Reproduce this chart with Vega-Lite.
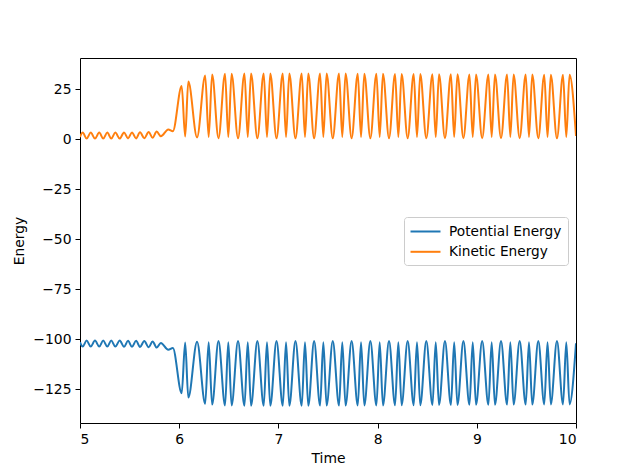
{
  "$schema": "https://vega.github.io/schema/vega-lite/v6.json",
  "autosize": "none",
  "width": 496,
  "height": 365,
  "padding": {"left": 80, "top": 58, "right": 64, "bottom": 53},
  "background": "white",
  "data": {
    "values": [
      {"t": 5.000, "Potential Energy": -101.6, "Kinetic Energy": 1.0},
      {"t": 5.027, "Potential Energy": -103.8, "Kinetic Energy": 3.2},
      {"t": 5.067, "Potential Energy": -100.8, "Kinetic Energy": 0.2},
      {"t": 5.108, "Potential Energy": -103.8, "Kinetic Energy": 3.2},
      {"t": 5.151, "Potential Energy": -100.8, "Kinetic Energy": 0.2},
      {"t": 5.194, "Potential Energy": -103.8, "Kinetic Energy": 3.2},
      {"t": 5.234, "Potential Energy": -100.8, "Kinetic Energy": 0.2},
      {"t": 5.275, "Potential Energy": -103.8, "Kinetic Energy": 3.2},
      {"t": 5.315, "Potential Energy": -100.8, "Kinetic Energy": 0.2},
      {"t": 5.356, "Potential Energy": -103.8, "Kinetic Energy": 3.2},
      {"t": 5.400, "Potential Energy": -100.8, "Kinetic Energy": 0.2},
      {"t": 5.444, "Potential Energy": -103.9, "Kinetic Energy": 3.3},
      {"t": 5.484, "Potential Energy": -100.9, "Kinetic Energy": 0.3},
      {"t": 5.524, "Potential Energy": -103.9, "Kinetic Energy": 3.3},
      {"t": 5.565, "Potential Energy": -100.9, "Kinetic Energy": 0.3},
      {"t": 5.605, "Potential Energy": -104.0, "Kinetic Energy": 3.4},
      {"t": 5.648, "Potential Energy": -101.0, "Kinetic Energy": 0.4},
      {"t": 5.692, "Potential Energy": -104.1, "Kinetic Energy": 3.5},
      {"t": 5.732, "Potential Energy": -101.2, "Kinetic Energy": 0.6},
      {"t": 5.773, "Potential Energy": -104.3, "Kinetic Energy": 3.7},
      {"t": 5.815, "Potential Energy": -102.0, "Kinetic Energy": 1.4},
      {"t": 5.890, "Potential Energy": -105.4, "Kinetic Energy": 4.8},
      {"t": 5.936, "Potential Energy": -104.5, "Kinetic Energy": 3.9},
      {"t": 6.025, "Potential Energy": -127.1, "Kinetic Energy": 26.5},
      {"t": 6.060, "Potential Energy": -101.8, "Kinetic Energy": 1.2},
      {"t": 6.092, "Potential Energy": -129.3, "Kinetic Energy": 28.7},
      {"t": 6.180, "Potential Energy": -101.4, "Kinetic Energy": 0.8},
      {"t": 6.262, "Potential Energy": -132.4, "Kinetic Energy": 31.8},
      {"t": 6.297, "Potential Energy": -101.6, "Kinetic Energy": 1.0},
      {"t": 6.332, "Potential Energy": -132.8, "Kinetic Energy": 32.2},
      {"t": 6.396, "Potential Energy": -101.0, "Kinetic Energy": 0.4},
      {"t": 6.462, "Potential Energy": -133.2, "Kinetic Energy": 32.6},
      {"t": 6.495, "Potential Energy": -101.6, "Kinetic Energy": 1.0},
      {"t": 6.528, "Potential Energy": -133.2, "Kinetic Energy": 32.6},
      {"t": 6.593, "Potential Energy": -101.0, "Kinetic Energy": 0.4},
      {"t": 6.658, "Potential Energy": -133.4, "Kinetic Energy": 32.8},
      {"t": 6.691, "Potential Energy": -101.6, "Kinetic Energy": 1.0},
      {"t": 6.724, "Potential Energy": -133.4, "Kinetic Energy": 32.8},
      {"t": 6.788, "Potential Energy": -101.0, "Kinetic Energy": 0.4},
      {"t": 6.852, "Potential Energy": -133.4, "Kinetic Energy": 32.8},
      {"t": 6.885, "Potential Energy": -101.6, "Kinetic Energy": 1.0},
      {"t": 6.918, "Potential Energy": -133.4, "Kinetic Energy": 32.8},
      {"t": 6.981, "Potential Energy": -101.0, "Kinetic Energy": 0.4},
      {"t": 7.044, "Potential Energy": -133.4, "Kinetic Energy": 32.8},
      {"t": 7.077, "Potential Energy": -101.6, "Kinetic Energy": 1.0},
      {"t": 7.110, "Potential Energy": -133.4, "Kinetic Energy": 32.8},
      {"t": 7.172, "Potential Energy": -101.0, "Kinetic Energy": 0.4},
      {"t": 7.235, "Potential Energy": -133.4, "Kinetic Energy": 32.8},
      {"t": 7.268, "Potential Energy": -101.6, "Kinetic Energy": 1.0},
      {"t": 7.301, "Potential Energy": -133.4, "Kinetic Energy": 32.8},
      {"t": 7.360, "Potential Energy": -101.0, "Kinetic Energy": 0.4},
      {"t": 7.420, "Potential Energy": -133.3, "Kinetic Energy": 32.7},
      {"t": 7.453, "Potential Energy": -101.6, "Kinetic Energy": 1.0},
      {"t": 7.486, "Potential Energy": -133.3, "Kinetic Energy": 32.7},
      {"t": 7.548, "Potential Energy": -101.0, "Kinetic Energy": 0.4},
      {"t": 7.611, "Potential Energy": -133.3, "Kinetic Energy": 32.7},
      {"t": 7.644, "Potential Energy": -101.6, "Kinetic Energy": 1.0},
      {"t": 7.677, "Potential Energy": -133.3, "Kinetic Energy": 32.7},
      {"t": 7.738, "Potential Energy": -101.0, "Kinetic Energy": 0.4},
      {"t": 7.800, "Potential Energy": -133.2, "Kinetic Energy": 32.6},
      {"t": 7.833, "Potential Energy": -101.6, "Kinetic Energy": 1.0},
      {"t": 7.866, "Potential Energy": -133.2, "Kinetic Energy": 32.6},
      {"t": 7.927, "Potential Energy": -101.0, "Kinetic Energy": 0.4},
      {"t": 7.988, "Potential Energy": -133.2, "Kinetic Energy": 32.6},
      {"t": 8.021, "Potential Energy": -101.6, "Kinetic Energy": 1.0},
      {"t": 8.054, "Potential Energy": -133.2, "Kinetic Energy": 32.6},
      {"t": 8.115, "Potential Energy": -101.0, "Kinetic Energy": 0.4},
      {"t": 8.176, "Potential Energy": -133.1, "Kinetic Energy": 32.5},
      {"t": 8.209, "Potential Energy": -101.6, "Kinetic Energy": 1.0},
      {"t": 8.242, "Potential Energy": -133.1, "Kinetic Energy": 32.5},
      {"t": 8.303, "Potential Energy": -101.0, "Kinetic Energy": 0.4},
      {"t": 8.364, "Potential Energy": -133.1, "Kinetic Energy": 32.5},
      {"t": 8.397, "Potential Energy": -101.6, "Kinetic Energy": 1.0},
      {"t": 8.430, "Potential Energy": -133.1, "Kinetic Energy": 32.5},
      {"t": 8.491, "Potential Energy": -101.0, "Kinetic Energy": 0.4},
      {"t": 8.553, "Potential Energy": -133.0, "Kinetic Energy": 32.4},
      {"t": 8.586, "Potential Energy": -101.6, "Kinetic Energy": 1.0},
      {"t": 8.619, "Potential Energy": -133.0, "Kinetic Energy": 32.4},
      {"t": 8.679, "Potential Energy": -101.0, "Kinetic Energy": 0.4},
      {"t": 8.739, "Potential Energy": -133.0, "Kinetic Energy": 32.4},
      {"t": 8.772, "Potential Energy": -101.6, "Kinetic Energy": 1.0},
      {"t": 8.805, "Potential Energy": -133.0, "Kinetic Energy": 32.4},
      {"t": 8.865, "Potential Energy": -101.0, "Kinetic Energy": 0.4},
      {"t": 8.926, "Potential Energy": -132.9, "Kinetic Energy": 32.3},
      {"t": 8.959, "Potential Energy": -101.6, "Kinetic Energy": 1.0},
      {"t": 8.992, "Potential Energy": -132.9, "Kinetic Energy": 32.3},
      {"t": 9.054, "Potential Energy": -101.0, "Kinetic Energy": 0.4},
      {"t": 9.117, "Potential Energy": -132.9, "Kinetic Energy": 32.3},
      {"t": 9.150, "Potential Energy": -101.6, "Kinetic Energy": 1.0},
      {"t": 9.183, "Potential Energy": -132.9, "Kinetic Energy": 32.3},
      {"t": 9.244, "Potential Energy": -101.0, "Kinetic Energy": 0.4},
      {"t": 9.305, "Potential Energy": -132.8, "Kinetic Energy": 32.2},
      {"t": 9.338, "Potential Energy": -101.6, "Kinetic Energy": 1.0},
      {"t": 9.371, "Potential Energy": -132.8, "Kinetic Energy": 32.2},
      {"t": 9.432, "Potential Energy": -101.0, "Kinetic Energy": 0.4},
      {"t": 9.493, "Potential Energy": -132.8, "Kinetic Energy": 32.2},
      {"t": 9.526, "Potential Energy": -101.6, "Kinetic Energy": 1.0},
      {"t": 9.559, "Potential Energy": -132.8, "Kinetic Energy": 32.2},
      {"t": 9.620, "Potential Energy": -101.0, "Kinetic Energy": 0.4},
      {"t": 9.680, "Potential Energy": -132.7, "Kinetic Energy": 32.1},
      {"t": 9.713, "Potential Energy": -101.6, "Kinetic Energy": 1.0},
      {"t": 9.746, "Potential Energy": -132.7, "Kinetic Energy": 32.1},
      {"t": 9.808, "Potential Energy": -101.0, "Kinetic Energy": 0.4},
      {"t": 9.869, "Potential Energy": -132.7, "Kinetic Energy": 32.1},
      {"t": 9.902, "Potential Energy": -101.6, "Kinetic Energy": 1.0},
      {"t": 9.935, "Potential Energy": -132.7, "Kinetic Energy": 32.1},
      {"t": 10.000, "Potential Energy": -102.1, "Kinetic Energy": 1.5}
    ]
  },
  "transform": [
    {"fold": ["Potential Energy", "Kinetic Energy"], "as": ["series", "energy"]}
  ],
  "mark": {"type": "line", "interpolate": "monotone", "strokeWidth": 2, "clip": true},
  "encoding": {
    "x": {
      "field": "t",
      "type": "quantitative",
      "title": "Time",
      "scale": {"domain": [5, 10], "nice": false, "zero": false},
      "axis": {"values": [5, 6, 7, 8, 9, 10], "format": "d", "titlePadding": 6}
    },
    "y": {
      "field": "energy",
      "type": "quantitative",
      "title": "Energy",
      "scale": {"domain": [-142, 40.5], "nice": false, "zero": false},
      "axis": {"values": [-125, -100, -75, -50, -25, 0, 25], "format": "d", "titlePadding": 6}
    },
    "color": {
      "field": "series",
      "type": "nominal",
      "scale": {"domain": ["Potential Energy", "Kinetic Energy"], "range": ["#1f77b4", "#ff7f0e"]},
      "legend": {
        "title": null,
        "orient": "none",
        "legendX": 324,
        "legendY": 159,
        "symbolType": "M-1.13,0L3.11,0",
        "symbolSize": 200,
        "symbolStrokeWidth": 2,
        "labelOffset": 22,
        "labelFontSize": 13.7,
        "labelColor": "black",
        "padding": 6,
        "rowPadding": 4.3,
        "strokeColor": "#cccccc",
        "fillColor": "white",
        "cornerRadius": 3
      }
    },
    "order": {"field": "t", "type": "quantitative"}
  },
  "config": {
    "font": "DejaVu Sans",
    "view": {"stroke": "black", "strokeWidth": 1},
    "axis": {
      "grid": false,
      "domain": false,
      "ticks": true,
      "tickColor": "black",
      "tickSize": 5,
      "labelColor": "black",
      "labelFontSize": 13.9,
      "labelPadding": 4,
      "titleFontSize": 13.9,
      "titleFontWeight": "normal",
      "titleColor": "black"
    },
    "legend": {"labelFont": "DejaVu Sans"}
  }
}
